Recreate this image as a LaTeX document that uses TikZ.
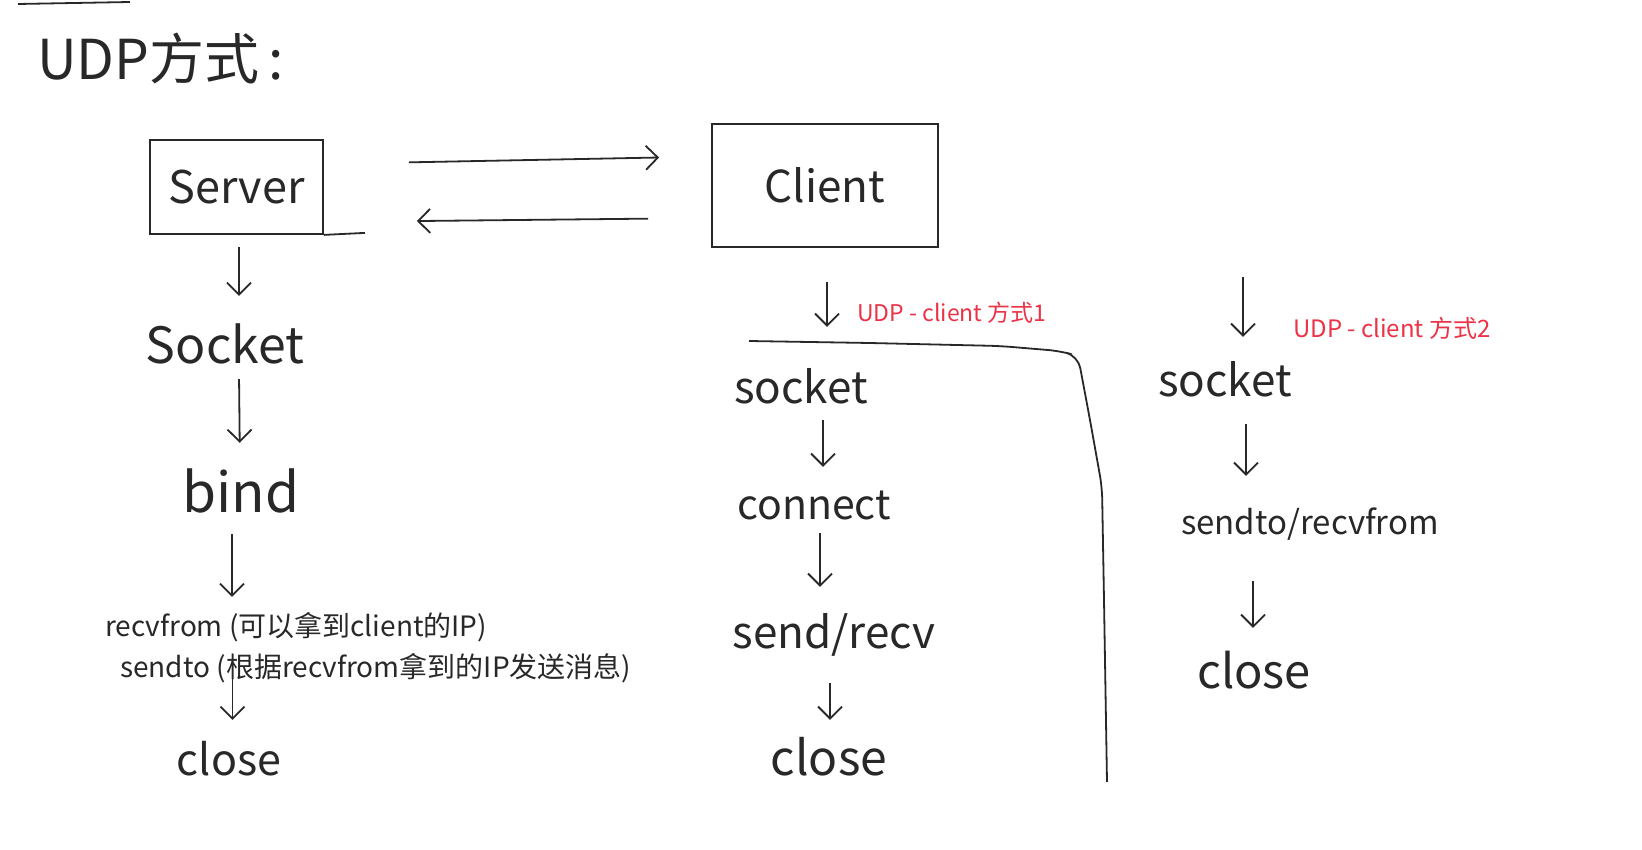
\documentclass[tikz,border=0pt]{standalone}
\usepackage{fontspec}
\setmainfont{Noto Sans CJK SC}
\usetikzlibrary{arrows.meta}
\definecolor{ink}{RGB}{40,40,40}
\definecolor{redink}{RGB}{235,50,70}
\tikzset{
  fs/.code={\pgfmathsetmacro\myth{0.75*#1}\pgfmathsetmacro\mytd{0.2*#1}%
    \edef\mytmp{\noexpand\tikzset{font=\noexpand\fontsize{#1pt}{#1pt}\noexpand\selectfont,text height=\myth pt,text depth=\mytd pt}}\mytmp},
  hw/.style={inner sep=0pt, anchor=base, text=ink},
  redlbl/.style={inner sep=0pt, anchor=base west, text=redink},
  box/.style={draw=ink, line width=1.8pt, inner sep=0pt},
  arr/.style={draw=ink, line width=1.8pt, -{Straight Barb[length=12pt,width=24pt,line width=1.8pt]}},
  stroke/.style={draw=ink, line width=1.8pt}
}
\begin{document}
\begin{tikzpicture}[x=1pt,y=-1pt]
\fill[white] (0,0) rectangle (1642,850);
\useasboundingbox (0,0) rectangle (1642,850);

% title
\draw[stroke] (18,4) -- (130,2);
\node[hw, fs=55, anchor=base west] (title) at (37,80) {UDP方式\,:};

% boxes
\node[box, minimum width=173pt, minimum height=94pt, font=\fontsize{45pt}{45pt}\selectfont, text=ink] (srv) at (236.5,187) {Server};
\draw[stroke] (srv.south east) -- ++(41,-2);
\node[box, minimum width=226pt, minimum height=123pt, font=\fontsize{44pt}{44pt}\selectfont, text=ink] (cli) at (825,185.5) {Client};

\draw[arr, shorten <=85pt, shorten >=52pt] ([yshift=23pt]srv.east) -- ([yshift=29pt]cli.west);
\draw[arr, shorten <=63pt, shorten >=93pt] ([yshift=-32.5pt]cli.west) -- ([yshift=-35pt]srv.east);

% server column
\node[hw, fs=50] (sock) at (225,364) {Socket};
\node[hw, fs=55] (bind) at (241,512) {bind};
\node[hw, fs=28, anchor=base west] (recv) at (105,636) {recvfrom (可以拿到client的IP)};
\node[hw, fs=28, anchor=base west] (send) at (120,677) {sendto (根据recvfrom拿到的IP发送消息)};
\node[hw, fs=43] (close0) at (229,775) {close};

\draw[arr, shorten <=12pt, shorten >=30.5pt] ([xshift=2.5pt]srv.south) -- ([xshift=14pt]sock.north);
\draw[arr, shorten <=5pt, shorten >=27.75pt] ([xshift=14pt]sock.south) -- ([xshift=-1pt]bind.north);
\draw[arr, shorten <=11pt, shorten >=18pt] ([xshift=-9pt]bind.south) -- ([xshift=127pt]recv.north west);
\draw[arr, shorten <=-7.6pt, shorten >=22.75pt] ([xshift=112.5pt]send.south west) -- ([xshift=3.5pt]close0.north);

% client mode 1
\node[redlbl, fs=23] (lbl1) at (857,322) {UDP - client 方式1};
\draw[stroke, rounded corners=12pt] (749,341) -- (870,343) -- (1000,346) -- (1060,351) -- (1078,356) -- (1090,420) -- (1102,487) -- (1104,600) -- (1107,782);
\node[hw, fs=44] (sock1) at (801,403) {socket};
\node[hw, fs=41] (conn) at (814,519) {connect};
\node[hw, fs=44] (sr) at (834,648) {send/recv};
\node[hw, fs=48] (close1) at (829,775) {close};

\draw[arr, shorten <=34pt, shorten >=43pt] ([xshift=2pt]cli.south) -- ([xshift=26pt]sock1.north);
\draw[arr, shorten <=8.2pt, shorten >=21.25pt] ([xshift=22pt]sock1.south) -- ([xshift=9pt]conn.north);
\draw[arr, shorten <=5.8pt, shorten >=28pt] ([xshift=6pt]conn.south) -- ([xshift=-14pt]sr.north);
\draw[arr, shorten <=26.2pt, shorten >=19pt] ([xshift=-4pt]sr.south) -- ([xshift=1pt]close1.north);

% client mode 2
\coordinate (m2) at (1243,277);
\node[redlbl, fs=24] (lbl2) at (1293,338) {UDP - client 方式2};
\node[hw, fs=44] (sock2) at (1225,396) {socket};
\node[hw, fs=33] (st) at (1310,534) {sendto/recvfrom};
\node[hw, fs=47] (close2) at (1254,688) {close};

\draw[arr, shorten >=26pt] (m2) -- ([xshift=18pt]sock2.north);
\draw[arr, shorten <=19.2pt, shorten >=33.25pt] ([xshift=21pt]sock2.south) -- ([xshift=-64pt]st.north);
\draw[arr, shorten <=40.4pt, shorten >=24.75pt] ([xshift=-57pt]st.south) -- ([xshift=-1pt]close2.north);
\end{tikzpicture}
\end{document}
